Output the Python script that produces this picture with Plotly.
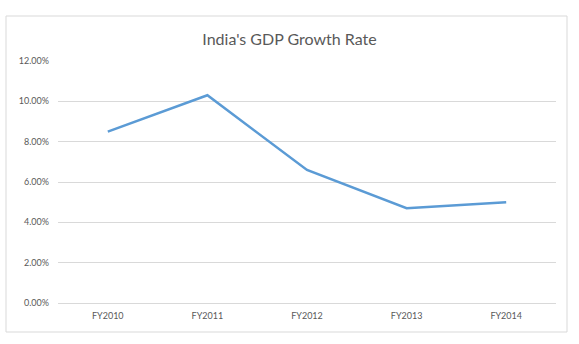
import plotly.graph_objects as go

years = ["FY2010", "FY2011", "FY2012", "FY2013", "FY2014"]
growth = [0.085, 0.103, 0.066, 0.047, 0.050]
y_ticks = [0, 0.02, 0.04, 0.06, 0.08, 0.10, 0.12]

W, H = 579, 344
L, R, T, B = 58, 23, 61, 41
pw, ph = W - L - R, H - T - B

def px_x(p):
    return (p - L) / pw

def px_y(p):
    return (H - B - p) / ph

fig = go.Figure()
fig.add_trace(go.Scatter(
    x=years, y=growth, mode="lines",
    line=dict(color="#5B9BD5", width=2.5),
    hoverinfo="skip", showlegend=False,
))

fig.update_layout(
    width=W, height=H,
    margin=dict(l=L, r=R, t=T, b=B),
    paper_bgcolor="white", plot_bgcolor="white",
    font=dict(family="Lato, Open Sans, sans-serif", color="#595959", size=9),
    title=dict(text="India's GDP Growth Rate", x=0.5, xanchor="center",
               y=1 - 39 / H, yanchor="middle",
               font=dict(size=16, color="#595959")),
    xaxis=dict(type="category", range=[-0.5, 4.5], showgrid=False,
               showline=False, zeroline=False, ticks="",
               ticklabelstandoff=6, tickfont=dict(size=9)),
    yaxis=dict(range=[0, 0.12], tickvals=y_ticks, tickformat=".2%",
               showgrid=True, gridcolor="#D9D9D9", gridwidth=1,
               zeroline=True, zerolinecolor="#D9D9D9", zerolinewidth=1,
               showline=False, ticks="", ticklabelstandoff=8,
               tickfont=dict(size=9)),
    shapes=[dict(type="rect", xref="paper", yref="paper",
                 x0=px_x(6), x1=px_x(567), y0=px_y(332), y1=px_y(16),
                 line=dict(color="#D9D9D9", width=1), layer="below")],
)

fig.write_html("out.html")
